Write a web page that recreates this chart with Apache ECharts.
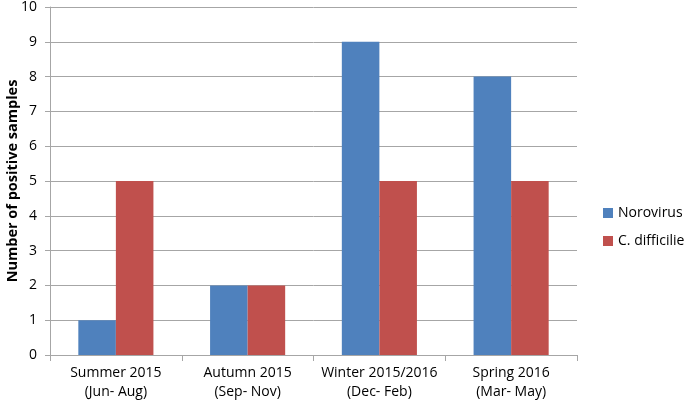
<!DOCTYPE html>
<html><head><meta charset="utf-8">
<script src="https://cdn.jsdelivr.net/npm/echarts@6/dist/echarts.min.js"></script>
<style>html,body{margin:0;padding:0;background:#fff}#c{width:685px;height:402px}</style>
</head><body><div id="c"></div>
<script>
const categories = ["Summer 2015\n(Jun- Aug)", "Autumn 2015\n(Sep- Nov)", "Winter 2015/2016\n(Dec- Feb)", "Spring 2016\n(Mar- May)"];
const norovirus = [1, 2, 9, 8];
const cdifficilie = [5, 2, 5, 5];
const seriesNames = ["Norovirus", "C. difficilie"];
const yTitle = "Number of positive samples";

const chart = echarts.init(document.getElementById('c'));
const font = "'Open Sans', 'Liberation Sans', sans-serif";
chart.setOption({
  animation: false,
  textStyle: {fontFamily: font},
  grid: {left: 50, top: 7, right: 108, bottom: 47, containLabel: false, outerBoundsMode: 'none'},
  legend: {
    orient: 'vertical', left: 598, top: 201, itemWidth: 10, itemHeight: 10, itemGap: 14,
    icon: 'rect',
    textStyle: {fontSize: 14, color: '#000', fontFamily: font}
  },
  xAxis: {
    type: 'category', data: categories,
    axisLine: {lineStyle: {color: '#a6a6a6', width: 1}},
    axisTick: {show: true, length: 6, lineStyle: {color: '#a6a6a6'}},
    axisLabel: {interval: 0, fontSize: 14, color: '#000', margin: 9, lineHeight: 19, fontFamily: font}
  },
  yAxis: {
    type: 'value', min: 0, max: 10, interval: 1,
    name: yTitle, nameLocation: 'middle', nameGap: 30, nameMoveOverlap: false,
    nameTextStyle: {fontSize: 14.5, fontWeight: 'bold', color: '#000', fontFamily: font},
    axisLine: {show: true, lineStyle: {color: '#a6a6a6'}},
    axisTick: {show: true, length: 5, lineStyle: {color: '#a6a6a6'}},
    axisLabel: {fontSize: 14, color: '#000', margin: 13, fontFamily: font},
    splitLine: {lineStyle: {color: '#a6a6a6', width: 1}}
  },
  series: [
    {name: seriesNames[0], type: 'bar', data: norovirus, barGap: '0%', barCategoryGap: '43%', itemStyle: {color: '#4f81bd'}},
    {name: seriesNames[1], type: 'bar', data: cdifficilie, barGap: '0%', barCategoryGap: '43%', itemStyle: {color: '#c0504d'}}
  ]
});
</script></body></html>
